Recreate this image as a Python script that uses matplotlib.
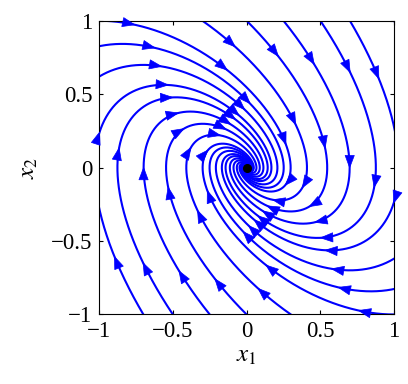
import numpy as np
import matplotlib
matplotlib.use("Agg")
import matplotlib.pyplot as plt

# damped oscillator: x1' = x2, x2' = -x1 - x2
A = np.array([[0.0, 1.0], [-1.0, -1.0]])

# initial conditions along the top (and some just outside the box)
top_x1 = [-1.0, -0.3, 0.0, 0.25, 0.5, 0.7, 1.0, 1.3]
X0 = [(x, 1.0) for x in top_x1] + [(-x, -1.0) for x in top_x1]

# times where the arrow heads go
timepts = [0.25, 1.0, 2.0, 3.0]

dt = 0.005
t_end = 10.0


def simulate(x0):
    f = lambda x: A @ x
    n = int(t_end / dt)
    xs = np.zeros((n + 1, 2))
    xs[0] = x0
    for i in range(n):
        x = xs[i]
        k1 = f(x)
        k2 = f(x + dt / 2 * k1)
        k3 = f(x + dt / 2 * k2)
        k4 = f(x + dt * k3)
        xs[i + 1] = x + dt / 6 * (k1 + 2 * k2 + 2 * k3 + k4)
    return xs


plt.rcParams['font.family'] = ['Liberation Serif', 'DejaVu Serif']
plt.rcParams['mathtext.fontset'] = 'stix'

fig = plt.figure(figsize=(4.08, 3.84), dpi=100)
ax = fig.add_axes([0.243, 0.181, 0.723, 0.765])

for s in X0:
    xs = simulate(np.array(s))
    ax.plot(xs[:, 0], xs[:, 1], color='blue', lw=1.5)
    for t in timepts:
        i = int(round(t / dt))
        p, q = xs[i - 2], xs[i]
        if abs(q[0]) > 1 or abs(q[1]) > 1:
            continue
        ax.annotate('', xy=q, xytext=p,
                    arrowprops=dict(arrowstyle='-|>,head_length=0.8,head_width=0.3',
                                    color='blue', lw=0.5, shrinkA=0, shrinkB=0,
                                    mutation_scale=11))

ax.plot([0], [0], 'o', color='black', ms=5.5)

ax.set_xlim(-1, 1)
ax.set_ylim(-1, 1)
ticks = [-1, -0.5, 0, 0.5, 1]
ticklabels = ['\u22121', '\u22120.5', '0', '0.5', '1']
ax.set_xticks(ticks)
ax.set_yticks(ticks)
ax.set_xticklabels(ticklabels)
ax.set_yticklabels(ticklabels)
ax.tick_params(direction='in', top=True, right=True, labelsize=16.5, length=3, pad=5)
ax.set_xlabel('$x_1$', fontsize=18, labelpad=2)
ax.set_ylabel('$x_2$', fontsize=18, labelpad=8)

fig.savefig('out.png', dpi=100)
